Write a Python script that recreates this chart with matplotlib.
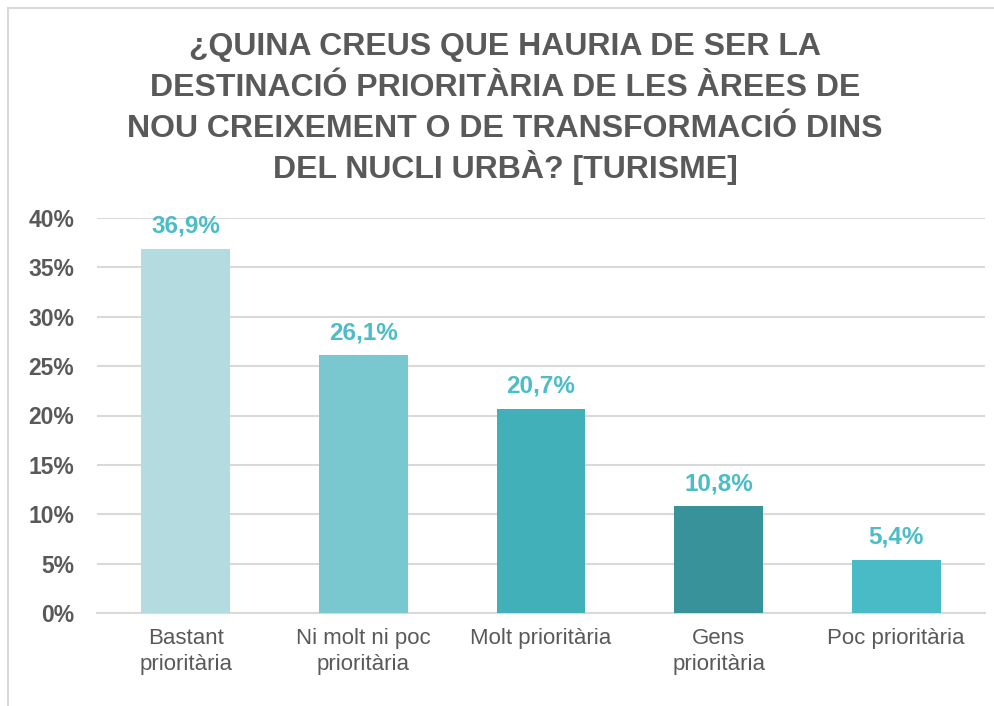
import matplotlib.pyplot as plt
from matplotlib.patches import Rectangle
import numpy as np

categories = ['Bastant\nprioritària', 'Ni molt ni poc\nprioritària', 'Molt prioritària',
              'Gens\nprioritària', 'Poc prioritària']
values = [36.9, 26.1, 20.7, 10.8, 5.4]
bar_colors = ['#B4DBE0', '#7AC8CF', '#41B0B8', '#37929A', '#48BBC6']
yticks = [0, 5, 10, 15, 20, 25, 30, 35, 40]

title_lines = ['¿QUINA CREUS QUE HAURIA DE SER LA',
               'DESTINACIÓ PRIORITÀRIA DE LES ÀREES DE',
               'NOU CREIXEMENT O DE TRANSFORMACIÓ DINS',
               'DEL NUCLI URBÀ? [TURISME]']

fonts = ['Liberation Sans', 'DejaVu Sans']
gray = '#595959'

fig = plt.figure(figsize=(9.95, 7.06), dpi=100)
# chart area border
fig.patches.append(Rectangle((8 / 995, -0.1), 1.2, 1 - 8 / 706 + 0.1, transform=fig.transFigure,
                             fill=False, edgecolor='#D9D9D9', linewidth=1.5))

ax = fig.add_axes([97 / 995, 1 - 613 / 706, 888 / 995, (613 - 218) / 706])
x = np.arange(len(categories))
ax.bar(x, values, width=0.5, color=bar_colors, zorder=3)
for xi, v in zip(x, values):
    ax.text(xi, v + 1.1, f'{v:.1f}%'.replace('.', ','), ha='center', va='bottom',
            fontsize=17.5, fontweight='bold', color='#4BBDC7', family=fonts)

ax.set_xlim(-0.5, len(categories) - 0.5)
ax.set_ylim(0, 40)
ax.set_yticks(yticks)
ax.set_yticklabels([f'{t}%' for t in yticks], fontsize=16.5, fontweight='bold', color=gray,
                   family=fonts)
ax.set_xticks(x)
ax.set_xticklabels(categories, fontsize=16, color=gray, family=fonts, linespacing=1.3)
ax.tick_params(axis='both', length=0)
ax.tick_params(axis='y', pad=16.5)
ax.tick_params(axis='x', pad=11)
ax.grid(axis='y', color='#D9D9D9', linewidth=1.5, zorder=0)
for s in ['top', 'right', 'left']:
    ax.spines[s].set_visible(False)
ax.spines['bottom'].set_color('#D9D9D9')
ax.spines['bottom'].set_linewidth(1.5)

for i, line in enumerate(title_lines):
    fig.text(505 / 995, 1 - (55 + 41 * i) / 706, line, ha='center', va='baseline',
             fontsize=23, fontweight='bold', color=gray, family=fonts)

fig.savefig('out.png', dpi=100)
